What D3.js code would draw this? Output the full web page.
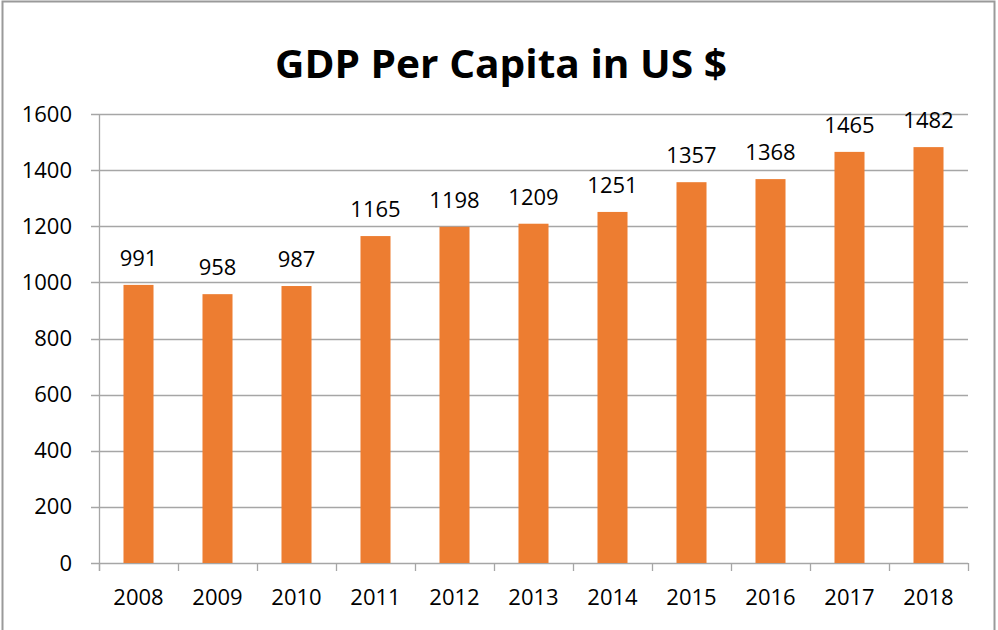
<!DOCTYPE html>
<html>
<head>
<meta charset="utf-8">
<script src="https://d3js.org/d3.v7.min.js"></script>
<style>
  body { margin: 0; background: #fff; }
  text { font-family: "Open Sans", sans-serif; }
</style>
</head>
<body>
<div id="chart"></div>
<script>
// chart data
var years = ["2008", "2009", "2010", "2011", "2012", "2013", "2014", "2015", "2016", "2017", "2018"];
var gdpValues = [991, 958, 987, 1165, 1198, 1209, 1251, 1357, 1368, 1465, 1482];
var yTicks = [0, 200, 400, 600, 800, 1000, 1200, 1400, 1600];

var svgWidth = 998;
var svgHeight = 630;
var margin = { top: 114, right: 30, bottom: 67, left: 99 };
var chartW = svgWidth - margin.left - margin.right;
var chartH = svgHeight - margin.top - margin.bottom;

var svg = d3.select("#chart")
    .append("svg")
    .attr("width", svgWidth)
    .attr("height", svgHeight);

// outer border
svg.append("rect")
    .attr("x", 2.5)
    .attr("y", 1.5)
    .attr("width", 992)
    .attr("height", 660)
    .attr("fill", "none")
    .attr("stroke", "#9a9a9a")
    .attr("stroke-width", 2);

// title
svg.append("text")
    .attr("x", 501)
    .attr("y", 78)
    .attr("text-anchor", "middle")
    .attr("font-size", "40px")
    .attr("font-weight", "bold")
    .attr("textLength", 452)
    .attr("lengthAdjust", "spacingAndGlyphs")
    .text("GDP Per Capita in US $");

var g = svg.append("g")
    .attr("transform", `translate(${margin.left}, ${margin.top})`);

var xScale = d3.scaleBand()
    .domain(years)
    .range([0, chartW])
    .paddingInner(0.62)
    .paddingOuter(0.31);

var yScale = d3.scaleLinear()
    .domain([0, 1600])
    .range([chartH, 0]);

// gridlines
g.selectAll(".grid")
    .data(yTicks)
    .enter()
    .append("line")
    .attr("x1", -8)
    .attr("x2", chartW)
    .attr("y1", d => Math.round(yScale(d)) + 0.5)
    .attr("y2", d => Math.round(yScale(d)) + 0.5)
    .attr("stroke", "#a6a6a6")
    .attr("stroke-width", 1.3);

// y axis labels
var leftAxis = d3.axisLeft(yScale)
    .tickValues(yTicks)
    .tickFormat(d3.format("d"))
    .tickSize(0)
    .tickPadding(27);
var yAxis = g.append("g").call(leftAxis);
yAxis.select(".domain").remove();
yAxis.selectAll("text")
    .attr("font-size", "22px")
    .attr("fill", "#000");

// y axis line
g.append("line")
    .attr("x1", 0.5).attr("x2", 0.5)
    .attr("y1", 0).attr("y2", chartH + 8)
    .attr("stroke", "#a6a6a6")
    .attr("stroke-width", 1.3);

// x axis ticks between categories
var step = xScale.step();
var bounds = d3.range(years.length + 1);
g.selectAll(".xtick")
    .data(bounds)
    .enter()
    .append("line")
    .attr("x1", d => Math.round(d * step) + 0.5)
    .attr("x2", d => Math.round(d * step) + 0.5)
    .attr("y1", chartH)
    .attr("y2", chartH + 8)
    .attr("stroke", "#a6a6a6")
    .attr("stroke-width", 1.3);

// x labels
var bottomAxis = d3.axisBottom(xScale).tickSize(0).tickPadding(26);
var xAxis = g.append("g")
    .attr("transform", `translate(0, ${chartH})`)
    .call(bottomAxis);
xAxis.select(".domain").remove();
xAxis.selectAll("text")
    .attr("font-size", "22px")
    .attr("fill", "#000");

// bars
g.selectAll(".bar")
    .data(gdpValues)
    .enter()
    .append("rect")
    .attr("x", (d, i) => xScale(years[i]))
    .attr("y", d => yScale(d))
    .attr("width", xScale.bandwidth())
    .attr("height", d => chartH - yScale(d))
    .attr("fill", "#ED7D31");

// value labels
g.selectAll(".label")
    .data(gdpValues)
    .enter()
    .append("text")
    .attr("x", (d, i) => xScale(years[i]) + xScale.bandwidth() / 2)
    .attr("y", d => yScale(d) - 19)
    .attr("text-anchor", "middle")
    .attr("font-size", "22px")
    .attr("fill", "#000")
    .text(d => d);
</script>
</body>
</html>
